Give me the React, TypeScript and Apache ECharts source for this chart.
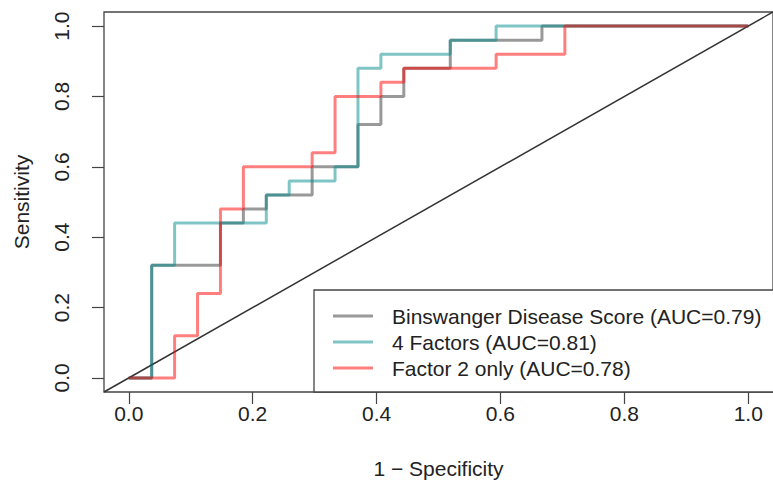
import React, { useEffect, useRef } from "react";
import * as echarts from "echarts";

// 1 - specificity / sensitivity step vertices (horizontal then vertical steps)
const seriesNames = [
  "Binswanger Disease Score (AUC=0.79)",
  "4 Factors (AUC=0.81)",
  "Factor 2 only (AUC=0.78)",
];
const bdsFpr = [0, 0.037, 0.148, 0.185, 0.222, 0.296, 0.37, 0.407, 0.444, 0.519, 0.667, 1.0];
const bdsTpr = [0, 0.32, 0.44, 0.48, 0.52, 0.6, 0.72, 0.8, 0.88, 0.96, 1.0, 1.0];
const f4Fpr = [0, 0.037, 0.074, 0.222, 0.259, 0.333, 0.37, 0.407, 0.519, 0.593, 1.0];
const f4Tpr = [0, 0.32, 0.44, 0.52, 0.56, 0.6, 0.88, 0.92, 0.96, 1.0, 1.0];
const f2Fpr = [0, 0.074, 0.111, 0.148, 0.185, 0.296, 0.333, 0.407, 0.444, 0.593, 0.704, 1.0];
const f2Tpr = [0, 0.12, 0.24, 0.48, 0.6, 0.64, 0.8, 0.84, 0.88, 0.92, 1.0, 1.0];
const diagX = [-0.04, 1.04];
const tickValues = [0, 0.2, 0.4, 0.6, 0.8, 1.0];
const seriesColors = ["rgba(0,0,0,0.4)", "rgba(0,139,139,0.5)", "rgba(255,0,0,0.5)"];

const FONT = "'Liberation Sans', Arial, Helvetica, sans-serif";
const INK = "#222";
const AXIS = "#444";

export default function App() {
  const ref = useRef<HTMLDivElement>(null);
  useEffect(() => {
    if (!ref.current) return;
    const chart = echarts.init(ref.current, undefined, { renderer: "svg" });
    const zip = (xs: number[], ys: number[]) => xs.map((x, i) => [x, ys[i]]);
    const curves = [zip(bdsFpr, bdsTpr), zip(f4Fpr, f4Tpr), zip(f2Fpr, f2Tpr)];
    const axisCommon = {
      type: "value" as const,
      min: -0.04,
      max: 1.04,
      splitLine: { show: false },
      axisLine: { show: false, onZero: false },
      axisTick: {
        show: true,
        inside: false,
        customValues: tickValues,
        length: 12,
        lineStyle: { color: AXIS, width: 1.2 },
      },
      nameLocation: "middle" as const,
      nameTextStyle: { fontFamily: FONT, fontSize: 21, color: INK },
    };
    chart.setOption({
      animation: false,
      backgroundColor: "#fff",
      grid: {
        show: true,
        left: 104,
        top: 12,
        width: 673,
        height: 380,
        borderColor: AXIS,
        borderWidth: 1.3,
        backgroundColor: "transparent",
      },
      xAxis: {
        ...axisCommon,
        name: "1 \u2212 Specificity",
        nameGap: 66,
        axisLabel: {
          customValues: tickValues,
          formatter: (v: number) => v.toFixed(1),
          fontFamily: FONT,
          fontSize: 21,
          color: INK,
          margin: 11,
        },
      },
      yAxis: {
        ...axisCommon,
        name: "Sensitivity",
        nameGap: 72,
        nameRotate: 90,
        axisLabel: {
          customValues: tickValues,
          formatter: (v: number) => v.toFixed(1),
          fontFamily: FONT,
          fontSize: 21,
          color: INK,
          rotate: 90,
          margin: 32,
        },
      },
      legend: {
        orient: "vertical",
        left: 314,
        top: 290,
        data: seriesNames,
        icon: "rect",
        itemWidth: 40,
        itemHeight: 3,
        itemGap: 0,
        padding: [13, 20, 11, 19],
        borderColor: AXIS,
        borderWidth: 1.3,
        backgroundColor: "#fff",
        selectedMode: false,
        textStyle: {
          fontFamily: FONT,
          fontSize: 21,
          color: INK,
          lineHeight: 26,
          padding: [0, 0, 0, 14],
        },
      },
      series: [
        {
          type: "line",
          name: "diag",
          data: zip(diagX, diagX),
          symbol: "none",
          lineStyle: { color: "#333", width: 1.5 },
          silent: true,
        },
        ...curves.map((d, i) => ({
          type: "line",
          name: seriesNames[i],
          data: d,
          step: "end",
          symbol: "none",
          color: seriesColors[i],
          lineStyle: { color: seriesColors[i], width: 3 },
        })),
      ],
    });
    return () => chart.dispose();
  }, []);
  return (
    <div
      ref={ref}
      style={{ position: "absolute", left: 0, top: 0, width: 773, height: 491 }}
    />
  );
}
